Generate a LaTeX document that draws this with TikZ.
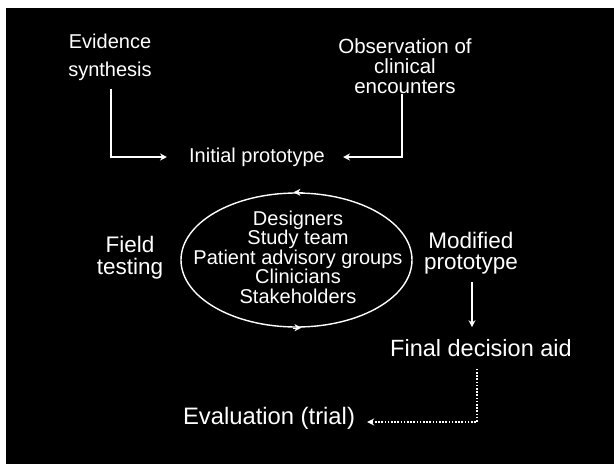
\documentclass[tikz,border=0pt]{standalone}
\usepackage{fontspec}
\setmainfont{Liberation Sans}
\usetikzlibrary{arrows.meta,shapes.geometric}
\begin{document}
\begin{tikzpicture}[x=1pt,y=-1pt,
  lbl/.style={text=white,align=center,inner sep=0pt},
  conn/.style={draw=white,line width=2.2pt,-{Stealth[length=7pt,width=7pt]}},
  dotconn/.style={draw=white,line width=1.8pt,dash pattern=on 1.6pt off 1.6pt,-{Stealth[length=7pt,width=7pt]}}]
\useasboundingbox (0,0) rectangle (614,464);
\fill[white] (0,0) rectangle (614,464);
\fill[black] (6,8) rectangle (614,464);

\node[lbl,font=\fontsize{20}{28}\selectfont] (ev) at (110,57) {Evidence\\synthesis};
\node[lbl,font=\fontsize{20.5}{20}\selectfont] (ob) at (405,66) {Observation of\\clinical\\encounters};
\node[lbl,font=\fontsize{20}{24}\selectfont] (ip) at (257,157) {Initial prototype};

\draw[conn] ([yshift=-8pt]ev.south -| 111,0) |- ([xshift=-22pt]ip.west);
\draw[conn] (ob.south -| 402,0) |- ([xshift=18pt]ip.east);

\node[draw=white,line width=1.4pt,ellipse,minimum width=231pt,minimum height=134pt,inner sep=0pt] (ell) at (296.5,260) {};
\node[lbl,font=\fontsize{20}{19.5}\selectfont] (team) at (298,257) {Designers\\Study team\\Patient advisory groups\\Clinicians\\Stakeholders};
\draw[draw=white,-{Stealth[length=7pt,width=7pt]}] ([xshift=6pt]ell.north) -- ([xshift=-3pt]ell.north);
\draw[draw=white,-{Stealth[length=7pt,width=7pt]}] ([xshift=-4pt]ell.south) -- ([xshift=5pt]ell.south);

\node[lbl,font=\fontsize{22.5}{22}\selectfont] (ft) at (130,258) {Field\\testing};
\node[lbl,font=\fontsize{22.5}{21}\selectfont] (mp) at (471,253) {Modified\\prototype};
\node[lbl,font=\fontsize{23.5}{24}\selectfont] (fd) at (481,348) {Final decision aid};
\node[lbl,font=\fontsize{23.8}{24}\selectfont] (eva) at (269,418) {Evaluation (trial)};

\draw[conn] ([yshift=-8pt]mp.south -| 472,0) -- ([yshift=12pt]fd.north -| 472,0);
\draw[dotconn] ([yshift=-12pt]fd.south -| 477,0) |- ([xshift=12pt,yshift=-4pt]eva.east);
\end{tikzpicture}
\end{document}
